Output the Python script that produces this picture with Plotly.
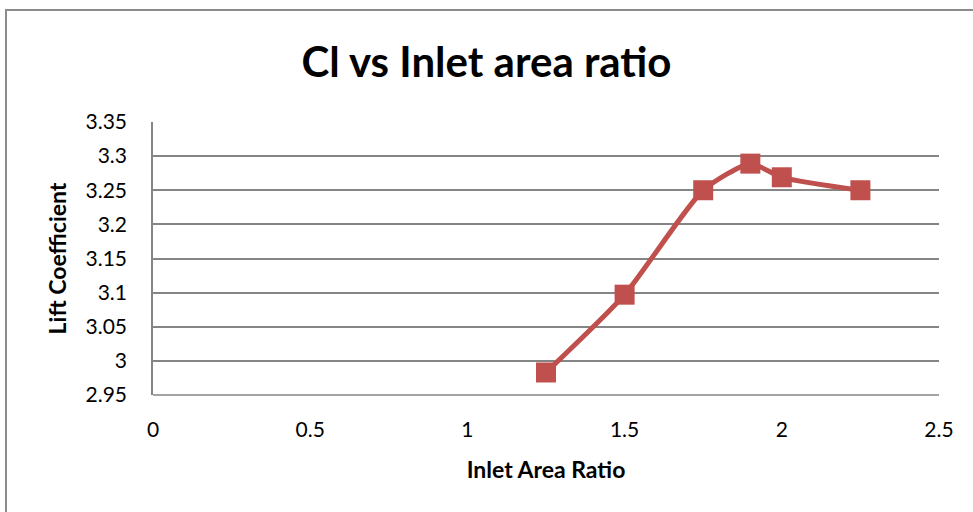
import plotly.graph_objects as go

inlet_area_ratio = [1.25, 1.5, 1.75, 1.9, 2.0, 2.25]
lift_coefficient = [2.983, 3.097, 3.25, 3.289, 3.269, 3.25]

W, H = 973, 512
L, R, T, B = 153, 34, 122, 117
pw, ph = W - L - R, H - T - B

fig = go.Figure()
fig.add_trace(go.Scatter(
    x=inlet_area_ratio, y=lift_coefficient, mode="lines+markers",
    line=dict(color="#C0504D", width=5, shape="spline", smoothing=0.6),
    marker=dict(symbol="square", size=20, color="#C0504D"),
    showlegend=False,
))

fnt = "Lato, Calibri, Carlito, sans-serif"
fig.update_layout(
    width=W, height=H,
    margin=dict(l=L, r=R, t=T, b=B),
    paper_bgcolor="white", plot_bgcolor="white",
    title=dict(text="<b>Cl vs Inlet area ratio</b>", x=0.5, xanchor="center",
               y=1 - 62 / H, yanchor="middle",
               font=dict(family=fnt, size=42, color="black")),
    xaxis=dict(range=[0, 2.5], dtick=0.5, tick0=0, showgrid=False,
               showline=False, zeroline=False,
               ticks="", ticklabelstandoff=20,
               tickfont=dict(family=fnt, size=21, color="black"),
               title=dict(text="<b>Inlet Area Ratio</b>", standoff=21,
                          font=dict(family=fnt, size=23, color="black"))),
    yaxis=dict(range=[2.95, 3.35], dtick=0.05, tick0=2.95, showgrid=True,
               gridcolor="#858585", gridwidth=1.6,
               showline=True, linecolor="#858585", linewidth=1.6,
               zeroline=False, ticks="", ticklabelstandoff=20,
               tickfont=dict(family=fnt, size=21, color="black"),
               title=dict(text="<b>Lift Coefficient</b>", standoff=12,
                          font=dict(family=fnt, size=23, color="black"))),
)

# bottom axis line at 2.95
fig.add_shape(type="line", xref="paper", yref="paper", x0=0, x1=1, y0=0, y1=0,
              line=dict(color="#858585", width=1.6))
# outer chart border
fig.add_shape(type="rect", xref="paper", yref="paper",
              x0=-(L - 6) / pw, x1=1 + (R + 10) / pw,
              y0=-(B + 10) / ph, y1=1 + (T - 10) / ph,
              line=dict(color="#8C8C8C", width=2), layer="below")

fig.write_html("out.html")
